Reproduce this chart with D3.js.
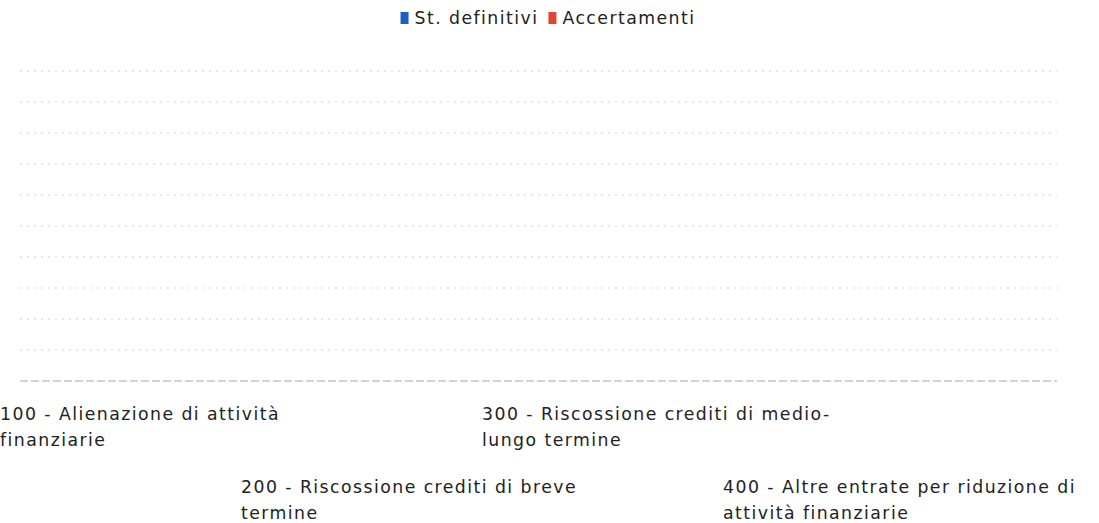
<!DOCTYPE html>
<html><head><meta charset="utf-8">
<script src="https://cdn.jsdelivr.net/npm/d3@7"></script>
<style>
html,body{margin:0;padding:0;background:#fff;}
svg{display:block;font-family:"DejaVu Sans",sans-serif;}
</style></head>
<body>
<svg id="chart" width="1099" height="523"></svg>
<script>
const categories = ["100 - Alienazione di attività finanziarie","200 - Riscossione crediti di breve termine","300 - Riscossione crediti di medio-lungo termine","400 - Altre entrate per riduzione di attività finanziarie"];
const labelLines = [["100 - Alienazione di attività","finanziarie"],["200 - Riscossione crediti di breve","termine"],["300 - Riscossione crediti di medio-","lungo termine"],["400 - Altre entrate per riduzione di","attività finanziarie"]];
const seriesNames = ["St. definitivi","Accertamenti"];
const stDefinitivi = [0,0,0,0];
const accertamenti = [0,0,0,0];
const yTicks = [0,0.1,0.2,0.3,0.4,0.5,0.6,0.7,0.8,0.9,1];
const colors = ["#1f5fc4","#e0452e"];

const svg = d3.select("#chart");
const W = 1099;
const plot = {left:20, right:1057, top:71, bottom:381};
const x = d3.scaleBand().domain(categories).range([plot.left, plot.right]).paddingInner(0.3).paddingOuter(0.15);
const xs = d3.scaleBand().domain(seriesNames).range([0, x.bandwidth()]).padding(0.05);
const y = d3.scaleLinear().domain([0,1]).range([plot.bottom, plot.top]);

// gridlines
svg.append("g").selectAll("line").data(yTicks.slice(1)).join("line")
  .attr("x1", plot.left).attr("x2", plot.right)
  .attr("y1", d=>y(d)).attr("y2", d=>y(d))
  .attr("stroke","#d2d2d2").attr("stroke-width",1.2).attr("stroke-dasharray","2,5");

// bars
const data = [stDefinitivi, accertamenti];
const g = svg.append("g");
categories.forEach((c,i)=>{
  seriesNames.forEach((s,j)=>{
    const v = data[j][i];
    g.append("rect").attr("x", x(c)+xs(s)).attr("width", xs.bandwidth())
      .attr("y", y(v)).attr("height", y(0)-y(v)).attr("fill", colors[j]);
  });
});

// baseline
svg.append("line").attr("x1",plot.left).attr("x2",plot.right)
  .attr("y1",y(0)).attr("y2",y(0))
  .attr("stroke","#aaaaaa").attr("stroke-width",1.2).attr("stroke-dasharray","8,3");

// category labels (staggered)
const lx = d3.scaleBand().domain(categories).range([0, 964]);
categories.forEach((c,i)=>{
  const row = i % 2;
  const t = svg.append("text").attr("x", lx(c)).attr("y", 420 + row*73)
    .attr("font-size",17.3).attr("letter-spacing","1.45px").attr("fill","#222");
  labelLines[i].forEach((ln,k)=>{
    t.append("tspan").attr("x", lx(c)).attr("dy", k===0?0:26).text(ln);
  });
});

// legend
const leg = svg.append("g");
const items = leg.selectAll("g").data(seriesNames).join("g");
let offset = 0;
items.each(function(d,i){
  const gg = d3.select(this);
  gg.append("rect").attr("x",0).attr("y",-10).attr("width",8).attr("height",12).attr("fill",colors[i]);
  const t = gg.append("text").attr("x",14).attr("y",1.5).attr("font-size",17.3).attr("letter-spacing","1.45px").attr("fill","#222").text(d);
  const w = 14 + t.node().getComputedTextLength();
  gg.attr("transform",`translate(${offset},0)`);
  offset += w + 10;
});
const totalW = offset - 10;
leg.attr("transform",`translate(${548 - totalW/2},22)`);
</script>
</body></html>
